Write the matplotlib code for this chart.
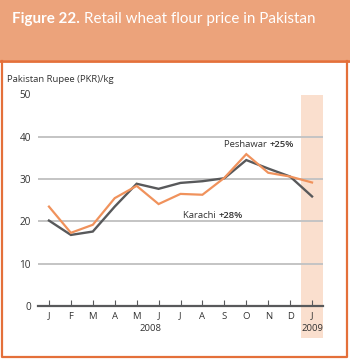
import matplotlib
matplotlib.use("Agg")
import matplotlib.pyplot as plt
from matplotlib.patches import Rectangle

plt.rcParams['font.family'] = ['Open Sans', 'DejaVu Sans']

# Monthly retail wheat flour prices, PKR/kg, Jan 2008 - Jan 2009
months = ['J', 'F', 'M', 'A', 'M', 'J', 'J', 'A', 'S', 'O', 'N', 'D', 'J']
karachi = [20.2, 16.8, 17.6, 23.5, 28.9, 27.7, 29.1, 29.5, 30.2, 34.5, 32.5, 30.6, 25.9]
peshawar = [23.5, 17.3, 19.2, 25.5, 28.4, 24.1, 26.5, 26.3, 30.3, 35.9, 31.5, 30.6, 29.2]
y_ticks = [0, 10, 20, 30, 40, 50]

ORANGE = '#F0925C'
GREY = '#58595B'
BORDER = '#E4703A'
HEADER = '#ECA37B'
SHADE = '#FADFCE'

fig = plt.figure(figsize=(3.5, 3.6), dpi=100)

# header band and frame
fig.patches.append(Rectangle((0, 300 / 360), 1, 60 / 360, transform=fig.transFigure,
                             facecolor=HEADER, edgecolor='none', zorder=-1))
fig.lines.append(plt.Line2D([0, 1], [299 / 360, 299 / 360], transform=fig.transFigure,
                            color=BORDER, lw=2))
fig.lines.append(plt.Line2D([2 / 350, 2 / 350, 347 / 350, 347 / 350],
                            [299 / 360, 3 / 360, 3 / 360, 299 / 360],
                            transform=fig.transFigure, color=BORDER, lw=1.6))

fig.text(7 / 350, 1 - 80 / 360, 'Pakistan Rupee (PKR)/kg', color='#333333',
         fontsize=6.8, va='center', ha='left')

ax = fig.add_axes([38 / 350, 54 / 360, 285 / 350, 211.5 / 360])
x = list(range(len(months)))

title = fig.text(12 / 350, 1 - 23.5 / 360, 'Figure 22. ', color='white', fontsize=10.9,
                 fontweight='bold', va='baseline', ha='left', family='Lato')
ax.annotate('Retail wheat flour price in Pakistan', xy=(1, 0), xycoords=title,
            va='bottom', ha='left', color='white', fontsize=10.9, family='Lato')

# latest month highlighted
ax.add_patch(Rectangle((11.5, -0.151), 1, 1.151, transform=ax.get_xaxis_transform(),
                       facecolor=SHADE, edgecolor='none', clip_on=False, zorder=0))

for v in y_ticks[1:]:
    ax.axhline(v, color='#c4c4c4', lw=1.4, zorder=1)

ax.plot(x, karachi, color=GREY, lw=1.7, zorder=3, solid_joinstyle='miter')
ax.plot(x, peshawar, color=ORANGE, lw=1.6, zorder=4, solid_joinstyle='miter')

ax.set_xlim(-0.5, 12.5)
ax.set_ylim(0, 50)
ax.set_facecolor('none')
for s in ['top', 'right', 'left']:
    ax.spines[s].set_visible(False)
ax.spines['bottom'].set_color(GREY)
ax.spines['bottom'].set_linewidth(1.6)
ax.spines['bottom'].set_zorder(5)

ax.set_xticks(x)
ax.set_xticklabels(months)
ax.set_yticks(y_ticks)
ax.tick_params(axis='x', direction='in', length=4.5, width=0.8, color=GREY,
               labelsize=6.8, labelcolor='#333333', pad=4)
ax.tick_params(axis='y', length=0, labelsize=7.2, labelcolor='#333333', pad=5)

ax.text(4.65, -0.105, '2008', transform=ax.get_xaxis_transform(), ha='center',
        va='center', fontsize=6.8, color='#333333')
ax.text(12, -0.105, '2009', transform=ax.get_xaxis_transform(), ha='center',
        va='center', fontsize=6.8, color='#333333')

t1 = ax.text(7.99, 38.1, 'Peshawar ', fontsize=6.8, color='#333333', va='center', ha='left')
ax.annotate('+25%', xy=(1, 0), xycoords=t1, va='bottom', ha='left', fontsize=6.8,
            fontweight='semibold', color='#333333')
t2 = ax.text(6.12, 21.5, 'Karachi ', fontsize=6.8, color='#333333', va='center', ha='left')
ax.annotate('+28%', xy=(1, 0), xycoords=t2, va='bottom', ha='left', fontsize=6.8,
            fontweight='semibold', color='#333333')

fig.savefig('out.png', dpi=100, facecolor='white')
